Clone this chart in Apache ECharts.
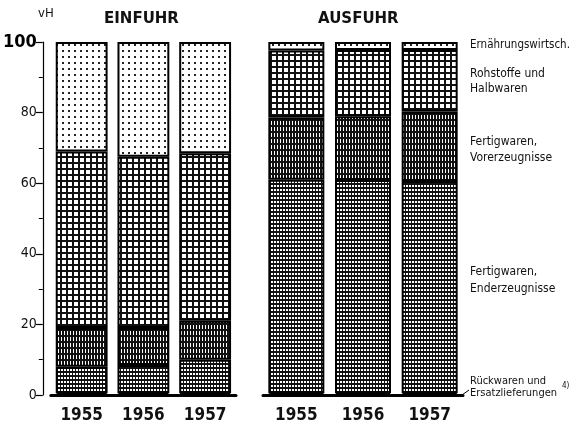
<!DOCTYPE html>
<html lang="de">
<head>
<meta charset="UTF-8">
<title>Einfuhr / Ausfuhr</title>
<script src="https://cdn.jsdelivr.net/npm/echarts@6/dist/echarts.min.js"></script>
<style>
  html, body { margin: 0; padding: 0; background: #fff; }
  #main { width: 580px; height: 427px; }
</style>
</head>
<body>
<div id="main"></div>
<script type="text/javascript">
// Jahre
var years = ['1955', '1956', '1957'];
var yTicks = [0, 20, 40, 60, 80, 100];

// Einfuhr, Anteile in vH (von unten nach oben)
var einRueck  = [0.5, 0.5, 0.5];
var einEnder  = [7.5, 8.0, 9.5];
var einVorerz = [11.0, 10.5, 11.0];
var einRohst  = [50.0, 48.5, 47.5];
var einErn    = [31.0, 32.5, 31.5];

// Ausfuhr, Anteile in vH
var ausRueck  = [0.5, 0.5, 0.5];
var ausEnder  = [60.5, 60.4, 60.1];
var ausVorerz = [17.6, 18.1, 19.7];
var ausRohst  = [19.0, 18.7, 17.4];
var ausErn    = [2.4, 2.3, 2.3];

var gruppen = ['Rückwaren und Ersatzlieferungen', 'Fertigwaren, Enderzeugnisse',
               'Fertigwaren, Vorerzeugnisse', 'Rohstoffe und Halbwaren', 'Ernährungswirtschaft'];

// kleine Schraffur-Muster als Canvas
function muster(w, h, bg, fg, rects) {
    var c = document.createElement('canvas');
    c.width = w; c.height = h;
    var ctx = c.getContext('2d');
    ctx.fillStyle = bg;
    ctx.fillRect(0, 0, w, h);
    ctx.fillStyle = fg;
    rects.forEach(function (r) { ctx.fillRect(r[0], r[1], r[2], r[3]); });
    return { image: c, repeat: 'repeat' };
}

var fills = [
    '#111',                                                           // Rückwaren
    muster(3, 4, '#111', '#fff', [[1, 1, 2, 2]]),                     // Enderzeugnisse
    muster(3, 6, '#111', '#fff', [[1, 1, 1, 4]]),                     // Vorerzeugnisse
    muster(6, 6, '#fff', '#111', [[0, 0, 6, 2], [0, 0, 2, 6]]),       // Rohstoffe
    muster(6, 6, '#fff', '#222', [[2, 2, 2, 2]])                      // Ernährung
];

var font = "'DejaVu Sans Condensed', 'Liberation Sans Narrow', sans-serif";

function makeSeries(idx, arrs) {
    return arrs.map(function (arr, i) {
        return {
            name: gruppen[i],
            type: 'bar',
            stack: 'st' + idx,
            xAxisIndex: idx,
            yAxisIndex: idx,
            barCategoryGap: '16%',
            data: arr,
            itemStyle: { color: fills[i], borderColor: '#000', borderWidth: 2 },
            emphasis: { disabled: true },
            animation: false
        };
    });
}

var chart = echarts.init(document.getElementById('main'));

var xAxisBase = {
    type: 'category',
    data: years,
    axisLine: { lineStyle: { color: '#000', width: 3 } },
    axisTick: { show: false },
    axisLabel: { color: '#111', fontSize: 17, fontWeight: 'bold', fontFamily: font, margin: 12 }
};

chart.setOption({
    animation: false,
    grid: [
        { left: 50, width: 186, top: 42, bottom: 32 },
        { left: 263, width: 200, top: 42, bottom: 32 }
    ],
    xAxis: [
        Object.assign({ gridIndex: 0 }, xAxisBase),
        Object.assign({ gridIndex: 1 }, xAxisBase)
    ],
    yAxis: [
        {
            gridIndex: 0, type: 'value', min: yTicks[0], max: yTicks[yTicks.length - 1], interval: 20,
            offset: 8,
            axisLine: { show: true, lineStyle: { color: '#000', width: 1.2 } },
            axisTick: { show: true, length: 7, lineStyle: { color: '#000', width: 1.2 } },
            minorTick: { show: true, splitNumber: 2, length: 4, lineStyle: { color: '#000' } },
            splitLine: { show: false },
            axisLabel: {
                color: '#111', fontSize: 14, fontFamily: font, margin: 6,
                formatter: function (v) { return v === 100 ? '{b|' + v + '}' : v; },
                rich: { b: { fontSize: 18, fontWeight: 'bold', fontFamily: font, color: '#000' } }
            }
        },
        { gridIndex: 1, type: 'value', min: 0, max: 100, show: false }
    ],
    series: makeSeries(0, [einRueck, einEnder, einVorerz, einRohst, einErn])
        .concat(makeSeries(1, [ausRueck, ausEnder, ausVorerz, ausRohst, ausErn])),
    graphic: [
        { type: 'text', left: 38, top: 7, style: { text: 'vH', font: '13px ' + font, fill: '#111' } },
        { type: 'text', left: 104, top: 12, style: { text: 'EINFUHR', font: 'bold 15px DejaVu Sans', fill: '#111' } },
        { type: 'text', left: 318, top: 12, style: { text: 'AUSFUHR', font: 'bold 15px DejaVu Sans', fill: '#111' } },
        { type: 'text', left: 470, top: 39, style: { text: 'Ernährungswirtsch.', font: '11.5px ' + font, fill: '#111' } },
        { type: 'text', left: 470, top: 66, style: { text: 'Rohstoffe und\nHalbwaren', font: '12px ' + font, fill: '#111', lineHeight: 15 } },
        { type: 'text', left: 470, top: 134, style: { text: 'Fertigwaren,\nVorerzeugnisse', font: '12px ' + font, fill: '#111', lineHeight: 16 } },
        { type: 'text', left: 470, top: 263, style: { text: 'Fertigwaren,\nEnderzeugnisse', font: '12px ' + font, fill: '#111', lineHeight: 17 } },
        { type: 'text', left: 470, top: 375, style: { text: 'Rückwaren und\nErsatzlieferungen', font: '11px ' + font, fill: '#111', lineHeight: 12 } },
        { type: 'text', left: 562, top: 382, style: { text: '4)', font: '8px ' + font, fill: '#111' } },
        { type: 'line', shape: { x1: 469, y1: 390, x2: 462, y2: 395 }, style: { stroke: '#000', lineWidth: 1 } }
    ]
});
</script>
</body>
</html>
